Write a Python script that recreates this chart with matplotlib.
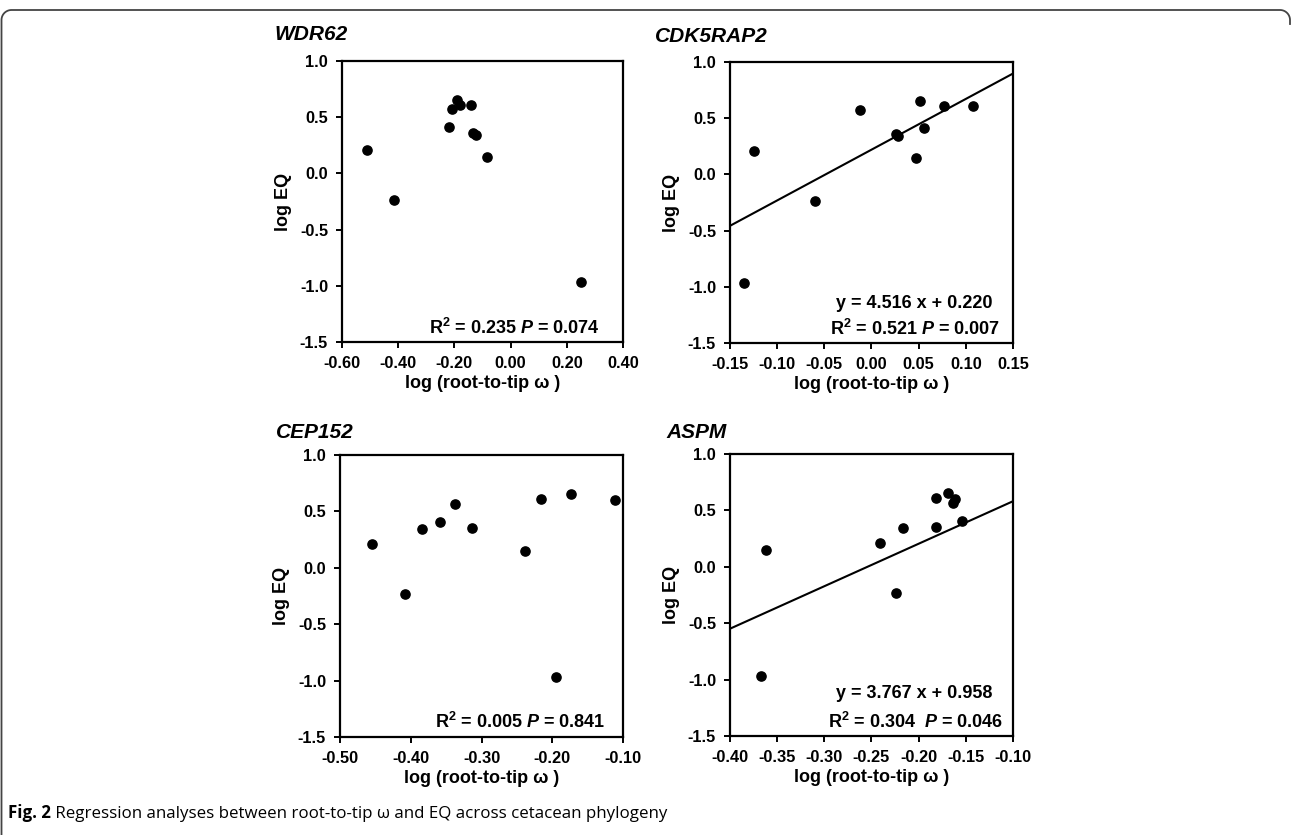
import matplotlib
matplotlib.use("Agg")
import matplotlib.pyplot as plt
from matplotlib.lines import Line2D
import numpy as np

plt.rcParams['font.family'] = ['Liberation Sans', 'DejaVu Sans']
plt.rcParams['font.weight'] = 'bold'
plt.rcParams['axes.labelweight'] = 'bold'
plt.rcParams['mathtext.fontset'] = 'custom'
plt.rcParams['mathtext.rm'] = 'Liberation Sans:bold'
plt.rcParams['mathtext.it'] = 'Liberation Sans:bold:italic'

# log EQ, one value per species (same order in every gene)
log_eq = [0.21, -0.235, 0.41, 0.57, 0.655, 0.61, 0.605, 0.355, 0.34, 0.145, -0.97]

# log (root-to-tip omega) per gene
wdr62 = [-0.51, -0.415, -0.22, -0.21, -0.19, -0.18, -0.142, -0.133, -0.123, -0.085, 0.252]
cdk5rap2 = [-0.125, -0.060, 0.0555, -0.0125, 0.051, 0.077, 0.108, 0.026, 0.028, 0.0475, -0.1355]
cep152 = [-0.455, -0.408, -0.358, -0.337, -0.173, -0.216, -0.112, -0.314, -0.384, -0.239, -0.194]
aspm = [-0.241, -0.224, -0.154, -0.1636, -0.169, -0.182, -0.162, -0.182, -0.217, -0.362, -0.367]

genes = ["WDR62", "CDK5RAP2", "CEP152", "ASPM"]
xvals = [wdr62, cdk5rap2, cep152, aspm]
xlims = [(-0.6, 0.4), (-0.15, 0.15), (-0.5, -0.1), (-0.4, -0.1)]
xticks = [np.arange(-0.6, 0.41, 0.2), np.arange(-0.15, 0.151, 0.05),
          np.arange(-0.5, -0.09, 0.1), np.arange(-0.4, -0.09, 0.05)]
yticks = np.arange(-1.5, 1.01, 0.5)
fits = [None, (4.516, 0.220), None, (3.767, 0.958)]
stats = ["R$^{2}$ = 0.235 $\\mathit{P}$ = 0.074",
         "R$^{2}$ = 0.521 $\\mathit{P}$ = 0.007",
         "R$^{2}$ = 0.005 $\\mathit{P}$ = 0.841",
         "R$^{2}$ = 0.304  $\\mathit{P}$ = 0.046"]
stat_pos = [(0.918, 0.05), (0.954, 0.05), (0.936, 0.053), (0.965, 0.05)]
eq_pos = [None, (0.929, 0.142), None, (0.926, 0.152)]

W, H = 1292, 835
# axes boxes in pixels: left, top, right, bottom
boxes = [(342, 61, 623, 342), (730, 62, 1013, 343),
         (340, 455, 623, 737), (730, 454, 1013, 736)]
title_xy = [(274, 35), (655, 37), (276, 432), (666, 432)]


def fmt(v, d):
    if abs(v) < 1e-9:
        v = 0.0
    return "%.*f" % (d, v)


fig = plt.figure(figsize=(W / 100, H / 100), dpi=100)

for i in range(4):
    l, t, r, b = boxes[i]
    ax = fig.add_axes([l / W, 1 - b / H, (r - l) / W, (b - t) / H])
    ax.scatter(xvals[i], log_eq, s=44, color='black', zorder=3)
    ax.set_xlim(*xlims[i])
    ax.set_ylim(-1.5, 1.0)
    ax.set_xticks(xticks[i])
    ax.set_yticks(yticks)
    ax.set_xticklabels([fmt(v, 2) for v in xticks[i]])
    ax.set_yticklabels([fmt(v, 1) for v in yticks])
    if fits[i] is not None:
        a, c = fits[i]
        xx = np.array(xlims[i])
        ax.plot(xx, a * xx + c, color='black', lw=1.5, zorder=2)
        ax.text(eq_pos[i][0], eq_pos[i][1], "y = %.3f x + %.3f" % (a, c),
                transform=ax.transAxes, ha='right', va='center', fontsize=13)
    ax.text(stat_pos[i][0], stat_pos[i][1], stats[i], transform=ax.transAxes,
            ha='right', va='center', fontsize=13)
    for s in ax.spines.values():
        s.set_linewidth(1.6)
    ax.tick_params(direction='out', length=4, width=1.4, labelsize=11.8, pad=6)
    ax.set_xlabel("log (root-to-tip \u03c9 )", fontsize=13, labelpad=3)
    ax.set_ylabel("log EQ", fontsize=13, labelpad=6)
    fig.text(title_xy[i][0] / W, 1 - title_xy[i][1] / H, genes[i],
             fontsize=15, fontstyle='italic', fontweight='bold',
             ha='left', va='center')

# caption
t1 = fig.text(8 / W, 1 - 822 / H, "Fig. 2", fontsize=12.2, fontweight='bold',
              family=['Open Sans', 'DejaVu Sans'], ha='left', va='bottom')
fig.axes[0].annotate(" Regression analyses between root-to-tip \u03c9 and EQ across cetacean phylogeny",
                     xy=(1, 0), xycoords=t1, ha='left', va='bottom', fontsize=12.2,
                     fontweight='normal', family=['Open Sans', 'DejaVu Sans'],
                     annotation_clip=False)

# outer frame: left side, top, and the top-right corner (pixel coords)
rad = 10
ang = np.linspace(np.pi, np.pi / 2, 20)
left_x = np.concatenate([[1.5], 1.5 + rad + rad * np.cos(ang)])
left_y = np.concatenate([[H + 5], 10 + rad - rad * np.sin(ang)])
ang2 = np.linspace(np.pi / 2, 0, 20)
right_x = np.concatenate([(W - 2 - rad) + rad * np.cos(ang2), [W - 2]])
right_y = np.concatenate([10 + rad - rad * np.sin(ang2), [10 + rad + 4]])
fx = np.concatenate([left_x, right_x]) / W
fy = 1 - np.concatenate([left_y, right_y]) / H
fig.add_artist(Line2D(fx, fy, transform=fig.transFigure, color='#444444',
                      linewidth=1.3))

fig.savefig("out.png", dpi=100)
